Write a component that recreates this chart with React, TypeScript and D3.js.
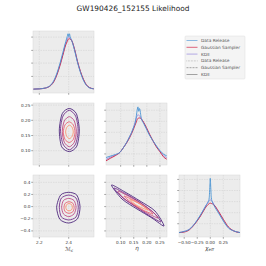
import React from 'react';
import * as d3 from 'd3';

const title = 'GW190426_152155 Likelihood';

// 1D marginal: chirp mass
const mcGrid = [2.16, 2.2, 2.24, 2.26, 2.28, 2.3, 2.32, 2.34, 2.36, 2.38, 2.39, 2.395, 2.4, 2.405, 2.41, 2.42, 2.44, 2.46, 2.48, 2.5, 2.52, 2.54, 2.57];
const mcRelease = [0.0, 0.005, 0.02, 0.04, 0.08, 0.16, 0.29, 0.46, 0.66, 0.86, 0.95, 1.0, 0.95, 1.0, 0.94, 0.88, 0.7, 0.48, 0.3, 0.16, 0.07, 0.025, 0.005];
const mcGaussian = [0.0, 0.005, 0.018, 0.035, 0.07, 0.14, 0.26, 0.42, 0.61, 0.8, 0.86, 0.89, 0.91, 0.91, 0.9, 0.88, 0.72, 0.5, 0.32, 0.18, 0.08, 0.03, 0.006];
const mcKde = [0.0, 0.005, 0.019, 0.037, 0.075, 0.15, 0.27, 0.44, 0.63, 0.83, 0.9, 0.93, 0.94, 0.94, 0.93, 0.88, 0.71, 0.49, 0.31, 0.17, 0.075, 0.028, 0.006];

// 1D marginal: eta
const etaGrid = [0.044, 0.06, 0.08, 0.0975, 0.11, 0.123, 0.135, 0.142, 0.15, 0.155, 0.16, 0.163, 0.166, 0.169, 0.172, 0.179, 0.188, 0.198, 0.21, 0.223, 0.236, 0.25, 0.263, 0.276];
const etaRelease = [0.065, 0.09, 0.12, 0.16, 0.24, 0.34, 0.45, 0.52, 0.62, 0.68, 0.82, 0.92, 0.98, 0.9, 0.95, 0.77, 0.68, 0.585, 0.47, 0.37, 0.28, 0.19, 0.13, 0.095];
const etaGaussian = [0.005, 0.05, 0.1, 0.16, 0.24, 0.33, 0.43, 0.5, 0.59, 0.65, 0.71, 0.75, 0.77, 0.78, 0.78, 0.76, 0.7, 0.61, 0.49, 0.37, 0.26, 0.17, 0.08, 0.035];
const etaKde = [0.03, 0.07, 0.11, 0.16, 0.24, 0.34, 0.45, 0.52, 0.62, 0.7, 0.78, 0.82, 0.84, 0.83, 0.82, 0.77, 0.69, 0.6, 0.48, 0.37, 0.27, 0.18, 0.11, 0.06];

// 1D marginal: chi_eff
const chiGrid = [-0.6, -0.5, -0.4, -0.3, -0.2, -0.13, -0.07, -0.04, -0.02, -0.008, 0, 0.008, 0.02, 0.04, 0.07, 0.16, 0.25, 0.35, 0.45, 0.57];
const chiRelease = [0.01, 0.03, 0.07, 0.17, 0.31, 0.42, 0.52, 0.56, 0.64, 0.85, 0.99, 0.85, 0.64, 0.56, 0.5, 0.36, 0.22, 0.09, 0.04, 0.01];
const chiGaussian = [0.01, 0.02, 0.06, 0.16, 0.29, 0.4, 0.49, 0.52, 0.535, 0.54, 0.54, 0.54, 0.535, 0.53, 0.51, 0.39, 0.25, 0.11, 0.04, 0.01];
const chiKde = [0.01, 0.03, 0.07, 0.17, 0.3, 0.42, 0.52, 0.57, 0.59, 0.6, 0.6, 0.6, 0.59, 0.57, 0.52, 0.38, 0.23, 0.1, 0.04, 0.01];

// 2D contours (data coordinates), outermost first
const contourColors = ['#3b0f70', '#641a80', '#b73779', '#e75263', '#fc8961'];

const mcEtaContours: [number, number][][] = [
  [[2.404, 0.239], [2.452, 0.222], [2.472, 0.168], [2.455, 0.115], [2.405, 0.097], [2.352, 0.113], [2.336, 0.168], [2.356, 0.222]],
  [[2.404, 0.233], [2.447, 0.214], [2.464, 0.168], [2.447, 0.122], [2.404, 0.103], [2.361, 0.122], [2.344, 0.168], [2.361, 0.214]],
  [[2.404, 0.212], [2.438, 0.198], [2.452, 0.163], [2.438, 0.128], [2.404, 0.113], [2.37, 0.128], [2.356, 0.163], [2.37, 0.198]],
  [[2.403, 0.195], [2.431, 0.185], [2.443, 0.161], [2.431, 0.137], [2.403, 0.127], [2.375, 0.137], [2.363, 0.161], [2.375, 0.185]],
  [[2.405, 0.184], [2.423, 0.177], [2.431, 0.162], [2.423, 0.147], [2.405, 0.14], [2.387, 0.147], [2.379, 0.162], [2.387, 0.177]],
];

const mcChiContours: [number, number][][] = [
  [[2.4, 0.235], [2.455, 0.19], [2.477, 0.0], [2.46, -0.2], [2.4, -0.27], [2.34, -0.21], [2.318, -0.01], [2.345, 0.19]],
  [[2.4, 0.19], [2.45, 0.14], [2.465, -0.01], [2.45, -0.17], [2.4, -0.22], [2.35, -0.17], [2.336, -0.01], [2.35, 0.14]],
  [[2.4, 0.135], [2.436, 0.1], [2.45, -0.01], [2.436, -0.12], [2.4, -0.165], [2.364, -0.12], [2.352, -0.01], [2.364, 0.1]],
  [[2.402, 0.08], [2.428, 0.055], [2.437, -0.015], [2.428, -0.085], [2.402, -0.11], [2.376, -0.085], [2.368, -0.015], [2.376, 0.055]],
  [[2.402, 0.05], [2.419, 0.033], [2.425, -0.01], [2.419, -0.053], [2.402, -0.07], [2.386, -0.053], [2.38, -0.01], [2.386, 0.033]],
];

const etaChiContours: [number, number][][] = [
  [[0.065, 0.355], [0.1166, 0.24], [0.174, 0.092], [0.231, -0.072], [0.2656, -0.319], [0.2197, -0.1875], [0.1624, -0.039], [0.1051, 0.125]],
  [[0.0746, 0.306], [0.124, 0.199], [0.178, 0.059], [0.227, -0.105], [0.254, -0.253], [0.212, -0.155], [0.159, -0.0065], [0.109, 0.142]],
  [[0.0898, 0.257], [0.1357, 0.158], [0.1815, 0.043], [0.2235, -0.089], [0.2426, -0.187], [0.2083, -0.122], [0.1586, 0.0017], [0.1128, 0.133]],
  [[0.1128, 0.174], [0.155, 0.092], [0.197, -0.023], [0.2235, -0.122], [0.1853, -0.056], [0.1433, 0.059]],
  [[0.1357, 0.117], [0.174, 0.043], [0.2044, -0.056], [0.1624, 0.018]],
];

// ticks
const mcTicks = [2.2, 2.4];
const etaTicks = [0.1, 0.15, 0.2, 0.25];
const chiXTicks = [-0.5, -0.25, 0.0, 0.25];
const chiYTicks = [-0.4, -0.2, 0.0, 0.2, 0.4];
const mcDensTicks = [0.23, 0.47, 0.7, 0.94];
const etaDensTicks = [0.13, 0.33, 0.52, 0.72, 0.92];
const chiDensTicks = [0.17, 0.37, 0.57, 0.77, 0.97];

const legendLabels = ['Data Release', 'Gaussian Sampler', 'KDE', 'Data Release', 'Gaussian Sampler', 'KDE'];

const C_BLUE = '#4a94d4';
const C_RED = '#cc1f44';
const C_KDE = '#9a88dc';
const FONT = 'DejaVu Sans, sans-serif';

const colX = [33, 106, 179];
const rowY = [31, 103, 175];
const PW = 61;
const PH = 62;

const xMc = d3.scaleLinear().domain([2.157, 2.572]).range([colX[0], colX[0] + PW]);
const xEta = d3.scaleLinear().domain([0.044, 0.277]).range([colX[1], colX[1] + PW]);
const xChi = d3.scaleLinear().domain([-0.6, 0.57]).range([colX[2], colX[2] + PW]);
const yEta = d3.scaleLinear().domain([0.053, 0.257]).range([rowY[1] + PH, rowY[1]]);
const yChi = d3.scaleLinear().domain([-0.5, 0.52]).range([rowY[2] + PH, rowY[2]]);
const yD = (r: number) => d3.scaleLinear().domain([-0.07, 1.05]).range([rowY[r] + PH, rowY[r]]);

type Fmt = (v: number) => string;

function Panel(props: {
  id: string; c: number; r: number;
  xs: d3.ScaleLinear<number, number>; ys: d3.ScaleLinear<number, number>;
  xt: number[]; yt: number[]; xfmt?: Fmt; yfmt?: Fmt; children?: React.ReactNode;
}) {
  const { id, c, r, xs, ys, xt, yt, xfmt, yfmt, children } = props;
  const x0 = colX[c], y0 = rowY[r];
  return (
    <g>
      <defs>
        <clipPath id={id}><rect x={x0} y={y0} width={PW} height={PH} /></clipPath>
      </defs>
      <rect x={x0} y={y0} width={PW} height={PH} fill="#ececec" stroke="#d8d8d8" strokeWidth={0.5} />
      {xt.map((t) => (
        <line key={'gx' + t} x1={xs(t)} x2={xs(t)} y1={y0} y2={y0 + PH} stroke="#cfcfcf" strokeWidth={0.5} strokeDasharray="1.5,1" />
      ))}
      {yt.map((t) => (
        <line key={'gy' + t} x1={x0} x2={x0 + PW} y1={ys(t)} y2={ys(t)} stroke="#cfcfcf" strokeWidth={0.5} strokeDasharray="1.5,1" />
      ))}
      <g clipPath={`url(#${id})`}>{children}</g>
      {xt.map((t) => (
        <line key={'tx' + t} x1={xs(t)} x2={xs(t)} y1={y0 + PH} y2={y0 + PH + 1.8} stroke="#555" strokeWidth={0.5} />
      ))}
      {yt.map((t) => (
        <line key={'ty' + t} x1={x0 - 1.8} x2={x0} y1={ys(t)} y2={ys(t)} stroke="#555" strokeWidth={0.5} />
      ))}
      {xfmt && xt.map((t) => (
        <text key={'lx' + t} x={xs(t)} y={y0 + PH + 6.5} fontSize={4.2} textAnchor="middle" fill="#333" fontFamily={FONT}>{xfmt(t)}</text>
      ))}
      {yfmt && yt.map((t) => (
        <text key={'ly' + t} x={x0 - 2.6} y={ys(t) + 1.5} fontSize={4.2} textAnchor="end" fill="#333" fontFamily={FONT}>{yfmt(t)}</text>
      ))}
    </g>
  );
}

function curve(xs: d3.ScaleLinear<number, number>, ys: d3.ScaleLinear<number, number>, gx: number[], gy: number[]) {
  const pts: [number, number][] = gx.map((g, i) => [g, gy[i]]);
  return d3.line<[number, number]>().x((d) => xs(d[0])).y((d) => ys(d[1])).curve(d3.curveMonotoneX)(pts) || '';
}

function contourPath(xs: d3.ScaleLinear<number, number>, ys: d3.ScaleLinear<number, number>, pts: [number, number][]) {
  return d3.line<[number, number]>().x((d) => xs(d[0])).y((d) => ys(d[1])).curve(d3.curveCardinalClosed.tension(0.2))(pts) || '';
}

function Marginal(props: { xs: d3.ScaleLinear<number, number>; ys: d3.ScaleLinear<number, number>; grid: number[]; rel: number[]; gau: number[]; kde: number[] }) {
  const { xs, ys, grid, rel, gau, kde } = props;
  return (
    <g fill="none" strokeWidth={0.9}>
      <path d={curve(xs, ys, grid, kde)} stroke={C_KDE} />
      <path d={curve(xs, ys, grid, gau)} stroke={C_RED} />
      <path d={curve(xs, ys, grid, rel)} stroke={C_BLUE} />
    </g>
  );
}

function Contours(props: { xs: d3.ScaleLinear<number, number>; ys: d3.ScaleLinear<number, number>; sets: [number, number][][] }) {
  const { xs, ys, sets } = props;
  return (
    <g fill="none" strokeWidth={0.8}>
      {sets.map((s, i) => (
        <path key={i} d={contourPath(xs, ys, s)} stroke={contourColors[i]} />
      ))}
    </g>
  );
}

const f1: Fmt = (v) => v.toFixed(1);
const f2: Fmt = (v) => v.toFixed(2).replace('-', '\u2212');
const fc: Fmt = (v) => v.toFixed(1).replace('-', '\u2212');

export default function App() {
  const lx = 186.5, ly0 = 40.5, dy = 6.8;
  const legendStyles = [
    { stroke: '#7fb2e0', dash: undefined },
    { stroke: '#d9536e', dash: undefined },
    { stroke: '#aba0e2', dash: undefined },
    { stroke: '#aaaaaa', dash: '0.6,0.9' },
    { stroke: '#999999', dash: '2,1' },
    { stroke: '#999999', dash: undefined },
  ];
  return (
    <svg width={266} height={266} style={{ position: 'absolute', left: 0, top: 0, background: '#fff' }}>
      <text x={133} y={10.5} fontSize={7.4} textAnchor="middle" fill="#222" fontFamily={FONT}>{title}</text>

      <Panel id="p00" c={0} r={0} xs={xMc} ys={yD(0)} xt={mcTicks} yt={mcDensTicks}>
        <Marginal xs={xMc} ys={yD(0)} grid={mcGrid} rel={mcRelease} gau={mcGaussian} kde={mcKde} />
      </Panel>

      <Panel id="p10" c={0} r={1} xs={xMc} ys={yEta} xt={mcTicks} yt={etaTicks} yfmt={f2}>
        <Contours xs={xMc} ys={yEta} sets={mcEtaContours} />
      </Panel>
      <Panel id="p11" c={1} r={1} xs={xEta} ys={yD(1)} xt={etaTicks} yt={etaDensTicks}>
        <Marginal xs={xEta} ys={yD(1)} grid={etaGrid} rel={etaRelease} gau={etaGaussian} kde={etaKde} />
      </Panel>

      <Panel id="p20" c={0} r={2} xs={xMc} ys={yChi} xt={mcTicks} yt={chiYTicks} xfmt={f1} yfmt={fc}>
        <Contours xs={xMc} ys={yChi} sets={mcChiContours} />
      </Panel>
      <Panel id="p21" c={1} r={2} xs={xEta} ys={yChi} xt={etaTicks} yt={chiYTicks} xfmt={f2}>
        <Contours xs={xEta} ys={yChi} sets={etaChiContours} />
      </Panel>
      <Panel id="p22" c={2} r={2} xs={xChi} ys={yD(2)} xt={chiXTicks} yt={chiDensTicks} xfmt={f2}>
        <Marginal xs={xChi} ys={yD(2)} grid={chiGrid} rel={chiRelease} gau={chiGaussian} kde={chiKde} />
      </Panel>

      <text x={69} y={251} fontSize={5.6} textAnchor="middle" fill="#333" fontFamily={FONT} fontStyle="italic">
        ℳ<tspan fontSize={4} dy={1}>c</tspan>
      </text>
      <text x={137} y={250} fontSize={5.6} textAnchor="middle" fill="#333" fontFamily={FONT} fontStyle="italic">η</text>
      <text x={209.5} y={250} fontSize={5.6} textAnchor="middle" fill="#333" fontFamily={FONT} fontStyle="italic">
        χ<tspan fontSize={4} dy={1}>eff</tspan>
      </text>

      <rect x={185} y={36} width={60} height={43} fill="#f4f4f4" stroke="#dddddd" strokeWidth={0.5} rx={1} />
      {legendLabels.map((lab, i) => (
        <g key={i}>
          <line x1={lx} x2={lx + 11} y1={ly0 + i * dy} y2={ly0 + i * dy} stroke={legendStyles[i].stroke} strokeWidth={0.9} strokeDasharray={legendStyles[i].dash} />
          <text x={lx + 14.5} y={ly0 + i * dy + 1.5} fontSize={4.3} fill="#555" fontFamily={FONT}>{lab}</text>
        </g>
      ))}
    </svg>
  );
}
